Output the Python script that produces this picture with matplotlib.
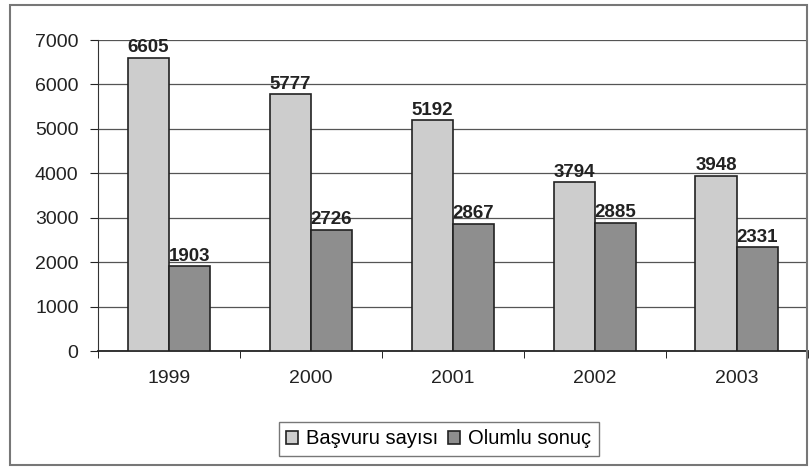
import matplotlib.pyplot as plt
import numpy as np
from matplotlib.patches import Rectangle

years = ["1999", "2000", "2001", "2002", "2003"]
basvuru = [6605, 5777, 5192, 3794, 3948]
olumlu = [1903, 2726, 2867, 2885, 2331]

plt.rcParams["font.family"] = ["Liberation Sans", "DejaVu Sans"]

fig = plt.figure(figsize=(8.11, 4.68), dpi=100)
ax = fig.add_axes([0.1208, 0.25, 0.875, 0.6645])

x = np.arange(len(years))
w = 0.29
b1 = ax.bar(x - w / 2, basvuru, w, color="#cdcdcd", edgecolor="#222222", linewidth=1.2,
            label="Başvuru sayısı", zorder=3)
b2 = ax.bar(x + w / 2, olumlu, w, color="#8e8e8e", edgecolor="#222222", linewidth=1.2,
            label="Olumlu sonuç", zorder=3)

for rect, v in zip(list(b1) + list(b2), basvuru + olumlu):
    ax.text(rect.get_x() + rect.get_width() / 2, v + 40, str(v), ha="center", va="bottom",
            fontsize=13.5, fontweight="bold", color="#222222")

ax.set_xlim(-0.5, 4.5)
ax.set_ylim(0, 7000)
ax.set_yticks(range(0, 7001, 1000))
ax.set_xticks(x)
ax.set_xticklabels(years)
ax.set_xticks(np.arange(-0.5, 5, 1), minor=True)
ax.tick_params(axis="x", which="major", length=0, pad=14, labelsize=14, colors="#222222")
ax.tick_params(axis="x", which="minor", length=5, direction="out")
ax.tick_params(axis="y", length=6, direction="out", labelsize=14, colors="#222222", pad=8)
ax.grid(axis="y", color="#555555", linewidth=0.9, zorder=0)
for s in ["top", "right"]:
    ax.spines[s].set_visible(False)
ax.spines["left"].set_color("#333333")
ax.spines["bottom"].set_color("#222222")
ax.spines["bottom"].set_linewidth(1.3)

fig.legend(handles=[b1, b2], loc="center", bbox_to_anchor=(0.541, 0.062), ncol=2,
           frameon=True, fancybox=False, edgecolor="#555555", fontsize=14.5,
           handlelength=0.6, handleheight=0.6, handletextpad=0.4, columnspacing=0.5,
           borderpad=0.35)

fig.patches.append(Rectangle((10 / 811, 3 / 468), 797 / 811, 460 / 468, transform=fig.transFigure,
                             fill=False, edgecolor="#777777", linewidth=1.5))

fig.savefig("out.png", dpi=100)
